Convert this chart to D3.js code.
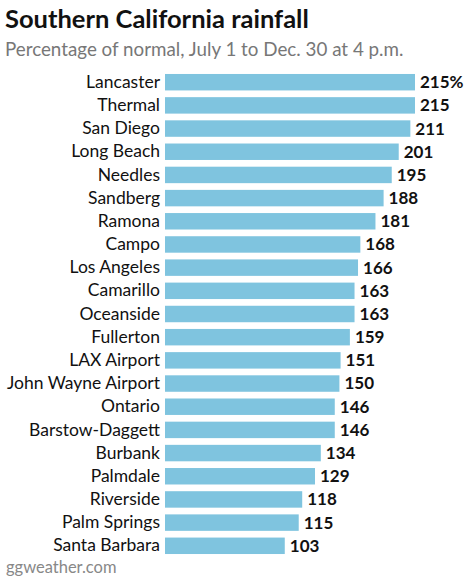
<!DOCTYPE html>
<html><head><meta charset="utf-8">
<script src="https://cdn.jsdelivr.net/npm/d3@7"></script>
<style>body{margin:0;background:#fff;}</style>
</head><body>
<svg id="c" width="474" height="583"></svg>
<script>
const categories = ["Lancaster","Thermal","San Diego","Long Beach","Needles","Sandberg","Ramona","Campo","Los Angeles","Camarillo","Oceanside","Fullerton","LAX Airport","John Wayne Airport","Ontario","Barstow-Daggett","Burbank","Palmdale","Riverside","Palm Springs","Santa Barbara"];
const values = [215,215,211,201,195,188,181,168,166,163,163,159,151,150,146,146,134,129,118,115,103];
const title = "Southern California rainfall";
const subtitle = "Percentage of normal, July 1 to Dec. 30 at 4 p.m.";
const source = "ggweather.com";

const svg = d3.select("#c");
const font = "Lato, 'Open Sans', sans-serif";
svg.append("text").attr("x",5).attr("y",28).text(title)
  .attr("font-family",font).attr("font-weight","bold").attr("font-size",25.5).attr("fill","#111");
svg.append("text").attr("x",5).attr("y",56).text(subtitle)
  .attr("font-family",font).attr("font-size",18.8).attr("fill","#777");

const x = d3.scaleLinear().domain([0,215]).range([165,415]);
const y = d3.scaleBand().domain(categories).range([70.5,557.5]).paddingInner(0.29).paddingOuter(0.15);

const g = svg.append("g");
g.selectAll("rect").data(values).join("rect")
  .attr("x",x(0)).attr("y",(d,i)=>y(categories[i]))
  .attr("width",d=>x(d)-x(0)).attr("height",y.bandwidth()).attr("fill","#7fc4df");

const yAxis = d3.axisLeft(y).tickSize(0).tickPadding(5);
const ag = svg.append("g").attr("transform",`translate(${x(0)},0)`).call(yAxis);
ag.select(".domain").remove();
ag.selectAll("text").attr("font-family",font).attr("font-size",17.5).attr("fill","#111");

g.selectAll("text.v").data(values).join("text").attr("class","v")
  .attr("x",d=>x(d)+5).attr("y",(d,i)=>y(categories[i])+y.bandwidth()/2).attr("dy","0.35em")
  .text((d,i)=>i===0? d+"%" : d)
  .attr("font-family",font).attr("font-weight","bold").attr("font-size",17).attr("fill","#111");

svg.append("text").attr("x",6).attr("y",573).text(source)
  .attr("font-family",font).attr("font-size",16.5).attr("fill","#888");
</script>
</body></html>
